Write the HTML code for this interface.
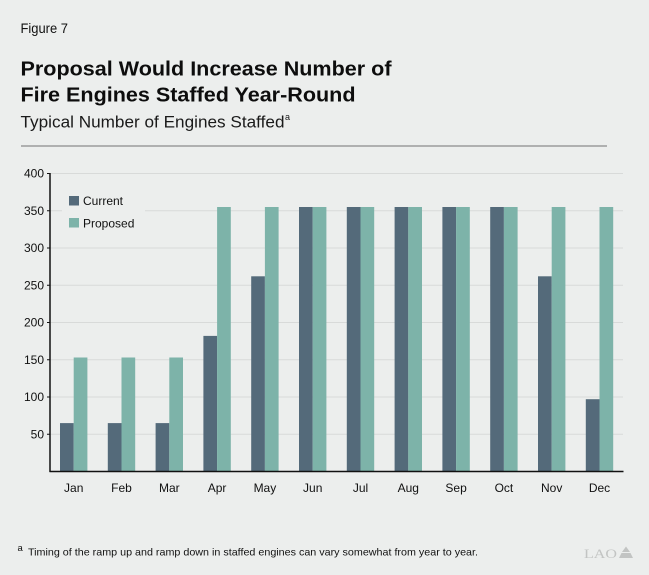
<!DOCTYPE html>
<html><head><meta charset="utf-8"><style>
html,body{margin:0;padding:0;background:#eceeed;}
svg{display:block;font-family:"Liberation Sans",Arial,sans-serif;}
</style></head><body>
<svg width="649" height="575" viewBox="0 0 649 575" xmlns="http://www.w3.org/2000/svg">
<rect x="0" y="0" width="649" height="575" fill="#eceeed"/>
<text x="20.5" y="33" font-size="13.5" fill="#111" textLength="47.5" lengthAdjust="spacingAndGlyphs">Figure 7</text>
<text x="20.5" y="75.5" font-size="20.5" font-weight="bold" fill="#0d0d0d" textLength="371" lengthAdjust="spacingAndGlyphs">Proposal Would Increase Number of</text>
<text x="20.5" y="101.5" font-size="20.5" font-weight="bold" fill="#0d0d0d" textLength="335" lengthAdjust="spacingAndGlyphs">Fire Engines Staffed Year-Round</text>
<text x="20.5" y="127.5" font-size="17" fill="#1a1a1a" textLength="264" lengthAdjust="spacingAndGlyphs">Typical Number of Engines Staffed</text>
<text x="285" y="120" font-size="9" fill="#1a1a1a">a</text>
<line x1="21" y1="146" x2="607" y2="146" stroke="#8a8c8b" stroke-width="1.2"/>
<!-- gridlines -->
<g stroke="#d8dad9" stroke-width="1">
<line x1="50" y1="173.5" x2="623" y2="173.5"/>
<line x1="50" y1="210.75" x2="623" y2="210.75"/>
<line x1="50" y1="248" x2="623" y2="248"/>
<line x1="50" y1="285.25" x2="623" y2="285.25"/>
<line x1="50" y1="322.5" x2="623" y2="322.5"/>
<line x1="50" y1="359.75" x2="623" y2="359.75"/>
<line x1="50" y1="397" x2="623" y2="397"/>
<line x1="50" y1="434.25" x2="623" y2="434.25"/>
</g>
<!-- legend -->
<rect x="62" y="188" width="83" height="46" fill="#eceeed"/>
<rect x="69" y="196" width="10" height="9.5" fill="#546a7a"/>
<rect x="69" y="218" width="10" height="9.5" fill="#7db3a9"/>
<text x="83" y="205" font-size="12" fill="#111">Current</text>
<text x="83" y="227.5" font-size="12" fill="#111">Proposed</text>
<!-- bars -->
<g>
<rect x="60" y="423.1" width="13.7" height="48.4" fill="#546a7a"/><rect x="73.7" y="357.5" width="13.7" height="114" fill="#7db3a9"/>
<rect x="107.8" y="423.1" width="13.7" height="48.4" fill="#546a7a"/><rect x="121.5" y="357.5" width="13.7" height="114" fill="#7db3a9"/>
<rect x="155.6" y="423.1" width="13.7" height="48.4" fill="#546a7a"/><rect x="169.3" y="357.5" width="13.7" height="114" fill="#7db3a9"/>
<rect x="203.4" y="335.9" width="13.7" height="135.6" fill="#546a7a"/><rect x="217.1" y="207" width="13.7" height="264.5" fill="#7db3a9"/>
<rect x="251.2" y="276.3" width="13.7" height="195.2" fill="#546a7a"/><rect x="264.9" y="207" width="13.7" height="264.5" fill="#7db3a9"/>
<rect x="299" y="207" width="13.7" height="264.5" fill="#546a7a"/><rect x="312.7" y="207" width="13.7" height="264.5" fill="#7db3a9"/>
<rect x="346.8" y="207" width="13.7" height="264.5" fill="#546a7a"/><rect x="360.5" y="207" width="13.7" height="264.5" fill="#7db3a9"/>
<rect x="394.6" y="207" width="13.7" height="264.5" fill="#546a7a"/><rect x="408.3" y="207" width="13.7" height="264.5" fill="#7db3a9"/>
<rect x="442.4" y="207" width="13.7" height="264.5" fill="#546a7a"/><rect x="456.1" y="207" width="13.7" height="264.5" fill="#7db3a9"/>
<rect x="490.2" y="207" width="13.7" height="264.5" fill="#546a7a"/><rect x="503.9" y="207" width="13.7" height="264.5" fill="#7db3a9"/>
<rect x="538" y="276.3" width="13.7" height="195.2" fill="#546a7a"/><rect x="551.7" y="207" width="13.7" height="264.5" fill="#7db3a9"/>
<rect x="585.8" y="399.2" width="13.7" height="72.3" fill="#546a7a"/><rect x="599.5" y="207" width="13.7" height="264.5" fill="#7db3a9"/>
</g>
<!-- axes -->
<line x1="50" y1="173" x2="50" y2="472" stroke="#111" stroke-width="1.5"/>
<line x1="49.5" y1="471.5" x2="623.5" y2="471.5" stroke="#111" stroke-width="1.5"/>
<g stroke="#111" stroke-width="1">
<line x1="47" y1="173.5" x2="50" y2="173.5"/>
<line x1="47" y1="210.75" x2="50" y2="210.75"/>
<line x1="47" y1="248" x2="50" y2="248"/>
<line x1="47" y1="285.25" x2="50" y2="285.25"/>
<line x1="47" y1="322.5" x2="50" y2="322.5"/>
<line x1="47" y1="359.75" x2="50" y2="359.75"/>
<line x1="47" y1="397" x2="50" y2="397"/>
<line x1="47" y1="434.25" x2="50" y2="434.25"/>
</g>
<g font-size="12" fill="#111" text-anchor="end">
<text x="44" y="177.7">400</text>
<text x="44" y="215">350</text>
<text x="44" y="252.2">300</text>
<text x="44" y="289.5">250</text>
<text x="44" y="326.7">200</text>
<text x="44" y="364">150</text>
<text x="44" y="401.2">100</text>
<text x="44" y="438.5">50</text>
</g>
<g font-size="12" fill="#111" text-anchor="middle">
<text x="73.7" y="492">Jan</text>
<text x="121.5" y="492">Feb</text>
<text x="169.3" y="492">Mar</text>
<text x="217.1" y="492">Apr</text>
<text x="264.9" y="492">May</text>
<text x="312.7" y="492">Jun</text>
<text x="360.5" y="492">Jul</text>
<text x="408.3" y="492">Aug</text>
<text x="456.1" y="492">Sep</text>
<text x="503.9" y="492">Oct</text>
<text x="551.7" y="492">Nov</text>
<text x="599.5" y="492">Dec</text>
</g>
<!-- footnote -->
<text x="17.5" y="551" font-size="9.5" fill="#111">a</text>
<text x="28" y="555.5" font-size="10.5" fill="#111" textLength="450" lengthAdjust="spacingAndGlyphs">Timing of the ramp up and ramp down in staffed engines can vary somewhat from year to year.</text>
<text x="584" y="558" font-family="Liberation Serif,serif" font-size="12.5" fill="#c2c4c3" textLength="33" lengthAdjust="spacingAndGlyphs">LAO</text>
<path d="M619 558 L633 558 L630.5 553 L621.5 553 Z M622 552 L630 552 L626 546.5 Z" fill="#c2c4c3"/>
</svg>
</body></html>
